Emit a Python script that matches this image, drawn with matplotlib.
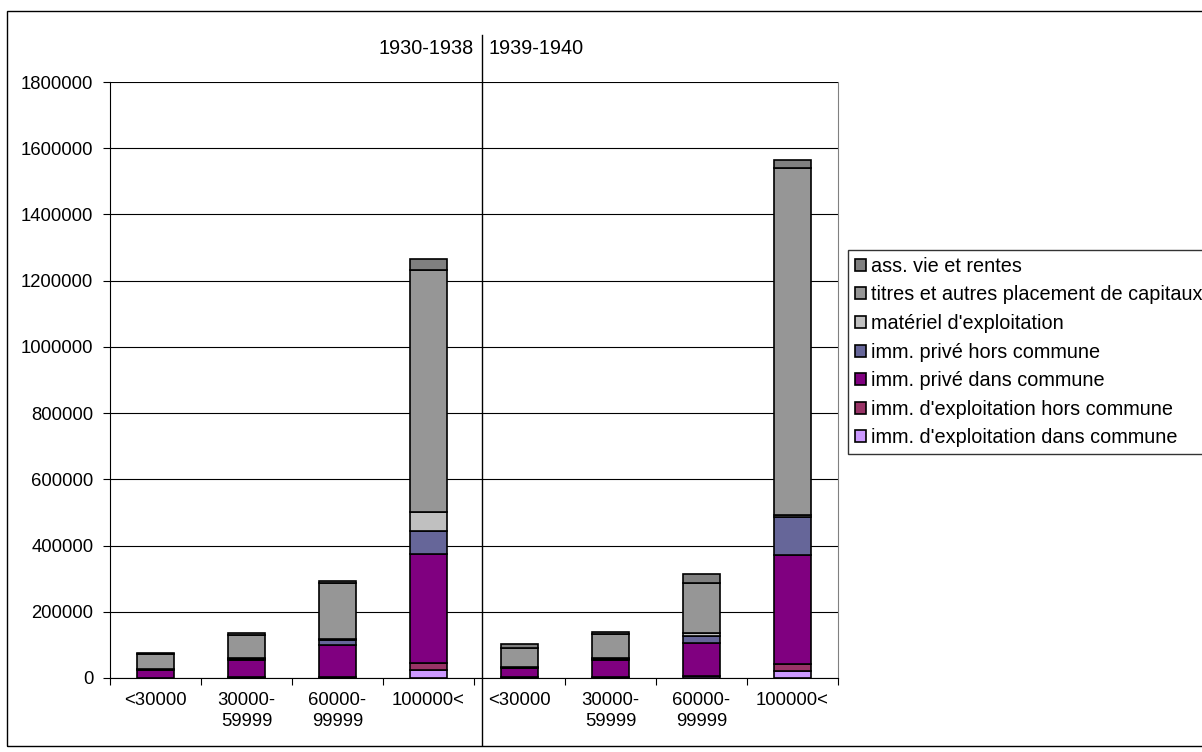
import numpy as np
import matplotlib
matplotlib.use('Agg')
import matplotlib.pyplot as plt
from matplotlib.patches import Rectangle
from matplotlib.transforms import blended_transform_factory

plt.rcParams['font.family'] = ['Liberation Sans', 'DejaVu Sans']

categories = ['<30000', '30000-\n59999', '60000-\n99999', '100000<',
              '<30000', '30000-\n59999', '60000-\n99999', '100000<']
periods = ['1930-1938', '1939-1940']

series_names = ["imm. d'exploitation dans commune",
                "imm. d'exploitation hors commune",
                "imm. privé dans commune",
                "imm. privé hors commune",
                "matériel d'exploitation",
                "titres et autres placement de capitaux",
                "ass. vie et rentes"]
colors = ['#CC99FF', '#993366', '#800080', '#666699', '#C0C0C0', '#969696', '#808080']

expl_dans = [1000, 1500, 3000, 24000, 1500, 1500, 5000, 22000]
expl_hors = [500, 1000, 1500, 22000, 1500, 1500, 2000, 20000]
prive_dans = [22000, 52000, 95000, 330000, 26000, 50500, 99700, 330000]
prive_hors = [1500, 3000, 15000, 68000, 2500, 4000, 21000, 113000]
materiel = [2000, 2000, 3300, 58000, 1500, 3500, 9000, 7000]
titres = [45000, 70500, 168000, 730000, 58600, 71500, 151000, 1047000]
ass_vie = [3000, 6800, 8000, 32000, 10000, 7000, 26500, 25000]

data = [expl_dans, expl_hors, prive_dans, prive_hors, materiel, titres, ass_vie]

tick_fs = 13.3
text_fs = 14.3

fig = plt.figure(figsize=(12.02, 7.52), dpi=100)
ax = fig.add_axes([110 / 1202, 1 - 678 / 752, 728 / 1202, 596 / 752])

x = np.arange(len(categories))
bottom = np.zeros(len(categories))
for name, vals, c in zip(series_names, data, colors):
    ax.bar(x, vals, 0.4, bottom=bottom, color=c, edgecolor='black',
           linewidth=1.2, label=name, zorder=3)
    bottom += np.array(vals)

ax.set_xlim(-0.5, len(categories) - 0.5)
ax.set_ylim(0, 1800000)
ax.set_yticks(np.arange(0, 1800001, 200000))
ax.set_yticklabels([str(v) for v in range(0, 1800001, 200000)])
ax.yaxis.grid(True, color='black', linewidth=0.8, zorder=0)
ax.set_xticks(np.arange(-0.5, len(categories)), minor=False)
ax.set_xticklabels([])
ax.set_xticks(x, minor=True)
ax.set_xticklabels(categories, minor=True)
ax.tick_params(axis='x', which='minor', length=0, pad=10)
ax.tick_params(axis='x', which='major', length=5, direction='out')
ax.tick_params(axis='y', length=5, direction='out', pad=7)
ax.tick_params(which='both', labelsize=tick_fs)
for lab in ax.get_xticklabels(minor=True):
    lab.set_horizontalalignment('center')
    lab.set_multialignment('center')
    lab.set_linespacing(1.3)

ax.spines['top'].set_visible(False)
ax.spines['right'].set_color('#808080')
ax.spines['left'].set_color('black')
ax.spines['bottom'].set_color('black')

# period divider
tr = blended_transform_factory(ax.transData, ax.transAxes)
ax.plot([3.585, 3.585], [-0.112, 1.079], color='black', linewidth=1,
        transform=tr, clip_on=False)
ax.text(3.5, 1.056, periods[0], transform=tr, ha='right', va='center', fontsize=text_fs)
ax.text(3.66, 1.056, periods[1], transform=tr, ha='left', va='center', fontsize=text_fs)

handles, labels = ax.get_legend_handles_labels()
leg = fig.legend(handles[::-1], labels[::-1], loc='upper left',
                 bbox_to_anchor=(848 / 1202, 1 - 250 / 752), fontsize=text_fs,
                 frameon=True, fancybox=False, handlelength=0.55,
                 handleheight=0.55, handletextpad=0.25, labelspacing=0.48,
                 borderpad=0.35, borderaxespad=0)
leg.get_frame().set_edgecolor('black')
leg.get_frame().set_linewidth(1)

fig.add_artist(Rectangle((7 / 1202, 6 / 752), 1.1, 1 - 17 / 752,
                         transform=fig.transFigure, fill=False,
                         edgecolor='black', linewidth=1))

fig.savefig('out.png', dpi=100)
